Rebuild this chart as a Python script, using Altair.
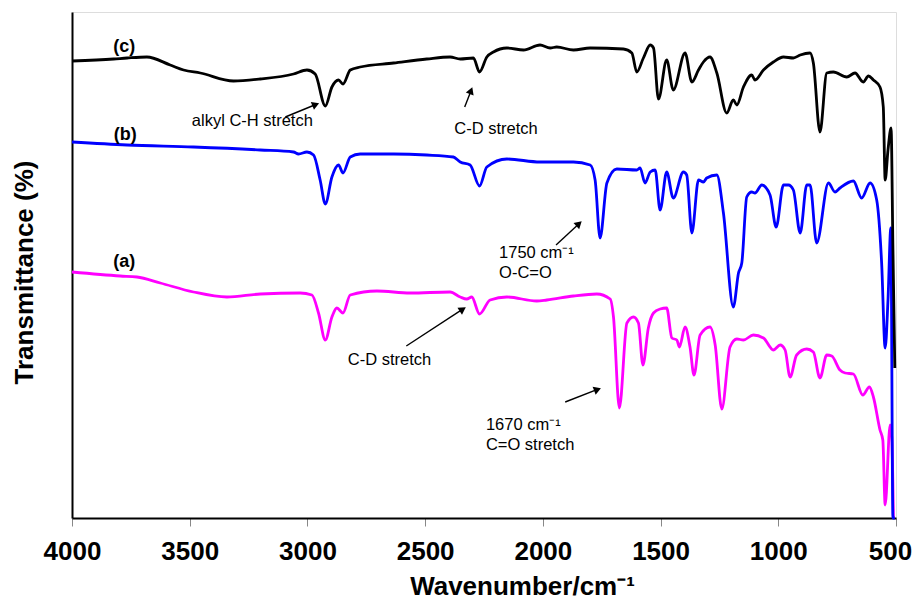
import math
import altair as alt
import pandas as pd

# ---- spectrum (c): black ----
wn_c = [4000, 3823, 3766, 3682, 3583, 3526, 3455, 3314, 3200, 3059, 3002, 2967, 2924, 2896, 2868, 2849,
        2818, 2776, 2634, 2493, 2394, 2351, 2295, 2269, 2238, 2210, 2153, 2082, 2012, 1969, 1941, 1870,
        1799, 1658, 1622, 1601, 1573, 1544, 1530, 1509, 1474, 1446, 1396, 1367, 1339, 1318, 1290, 1261,
        1219, 1191, 1176, 1148, 1113, 1099, 1063, 1021, 978, 936, 907, 865, 851, 823, 794, 766, 709,
        674, 639, 617, 596, 568, 554, 546, 534, 521, 513, 505]
t_c = [457, 459, 460, 461, 453, 448, 445, 437, 439, 444, 448, 444, 412, 431, 438, 434,
       448, 451, 455, 459, 461, 459, 460, 446, 461, 466, 470, 468, 473, 470, 471, 468,
       470, 469, 465, 446, 460, 473, 470, 419, 458, 428, 465, 436, 448, 456, 461, 445,
       405, 418, 413, 431, 443, 438, 448, 456, 461, 460, 463, 465, 455, 386, 445, 446, 441,
       445, 436, 442, 438, 431, 411, 338, 368, 390, 268, 150]

# ---- spectrum (b): blue ----
wn_b = [4000, 3766, 3484, 3200, 3059, 3038, 3002, 2974, 2946, 2924, 2896, 2868, 2849, 2818, 2776, 2634,
        2493, 2380, 2351, 2309, 2269, 2238, 2153, 2012, 1870, 1799, 1778, 1757, 1728, 1686, 1601, 1587,
        1566, 1544, 1523, 1502, 1474, 1446, 1403, 1389, 1367, 1339, 1318, 1304, 1261, 1233, 1191, 1169,
        1155, 1134, 1113, 1099, 1070, 1035, 1009, 978, 957, 936, 907, 879, 865, 837, 787, 759, 738,
        681, 646, 610, 582, 561, 546, 534, 522, 513, 505]
t_b = [376, 373, 371, 368, 366, 364, 366, 363, 338, 314, 341, 353, 345, 361, 364, 364,
       363, 361, 356, 353, 332, 351, 359, 356, 356, 353, 338, 280, 335, 349, 348, 350,
       335, 346, 348, 308, 346, 320, 346, 343, 285, 338, 336, 340, 343, 305, 211, 245,
       255, 321, 326, 325, 333, 323, 291, 333, 333, 328, 285, 333, 333, 275, 335, 326, 330,
       337, 320, 335, 318, 255, 170, 218, 290, 0, 0]

# ---- spectrum (a): magenta ----
wn_a = [4000, 3795, 3724, 3625, 3484, 3342, 3200, 3031, 2981, 2953, 2924, 2896, 2875, 2849, 2818, 2705,
        2564, 2394, 2351, 2323, 2302, 2269, 2224, 2153, 2026, 1983, 1870, 1771, 1714, 1700, 1675, 1643,
        1615, 1594, 1575, 1552, 1530, 1502, 1474, 1452, 1431, 1420, 1396, 1375, 1358, 1332, 1290, 1268,
        1240, 1205, 1176, 1148, 1106, 1063, 1021, 992, 971, 950, 922, 879, 851, 823, 794, 773, 738,
        716, 681, 641, 613, 596, 568, 556, 546, 525, 518, 511]
t_a = [246, 242, 241, 235, 226, 221, 224, 225, 223, 205, 178, 201, 210, 205, 223, 227,
       225, 226, 221, 219, 221, 204, 218, 221, 217, 218, 222, 224, 219, 201, 110, 195,
       201, 195, 153, 190, 205, 209, 210, 180, 178, 171, 191, 171, 143, 183, 191, 173,
       109, 171, 179, 178, 183, 180, 168, 173, 168, 141, 163, 169, 166, 140, 163, 162, 148,
       145, 144, 123, 131, 121, 88, 78, 13, 93, 81, 0]

series_names = ["(a)", "(b)", "(c)"]
series_colors = ["#FF00FF", "#0000FF", "#000000"]

# ---- labels ----
lab_text = ["(c)", "(b)", "(a)"]
lab_wn = [3778, 3774, 3778]
lab_t = [471, 383, 256]

note_text = ["alkyl C-H stretch", "C-D stretch", "C-D stretch"]
note_wn = [3234, 2199, 2651]
note_t = [397, 389, 158]

left_text = ["1750 cm\u207b\u00b9", "O-C=O", "1670 cm\u207b\u00b9", "C=O stretch"]
left_wn = [2186, 2186, 2242, 2242]
left_t = [265, 245, 93, 73]

# arrows: start -> tip
arr_wn1 = [3094, 2332, 1944, 2580, 1905]
arr_t1 = [401, 411, 273, 172, 116]
arr_wn2 = [2949, 2299, 1834, 2326, 1752]
arr_t2 = [415, 431, 297, 211, 130]

tick_values = [4000, 3500, 3000, 2500, 2000, 1500, 1000, 500]

W, H = 824, 506
X_MIN, X_MAX = 500, 4000
Y_MIN, Y_MAX = 0, 506
kx = W / (X_MAX - X_MIN)
ky = H / (Y_MAX - Y_MIN)

rows = []
for name, wns, ts in [("(a)", wn_a, t_a), ("(b)", wn_b, t_b), ("(c)", wn_c, t_c)]:
    for i, (w, t) in enumerate(zip(wns, ts)):
        rows.append({"series": name, "wn": w, "t": t, "i": i})
spec_df = pd.DataFrame(rows)

# arrow geometry (heads placed via the same data scales)
arr_rows, head_rows = [], []
for w1, t1, w2, t2 in zip(arr_wn1, arr_t1, arr_wn2, arr_t2):
    dxp = -(w2 - w1) * kx
    dyp = -(t2 - t1) * ky
    L = math.hypot(dxp, dyp)
    ux, uy = dxp / L, dyp / L
    back = 4.0
    wc = w2 + back * ux / kx
    tc = t2 + back * uy / ky
    ang = math.degrees(math.atan2(dxp, -dyp)) % 360
    arr_rows.append({"wn": w1, "t": t1, "wn2": wc, "t2": tc})
    head_rows.append({"wn": wc, "t": tc, "ang": ang})
arr_df = pd.DataFrame(arr_rows)
head_df = pd.DataFrame(head_rows)

FONT = "Arial, Liberation Sans, sans-serif"

xscale = alt.Scale(domain=[X_MIN, X_MAX], reverse=True, nice=False, zero=False)
yscale = alt.Scale(domain=[Y_MIN, Y_MAX], nice=False, zero=False)
xaxis = alt.Axis(values=tick_values, format="d", title="Wavenumber/cm\u207b\u00b9",
                 grid=False, domainColor="black", domainWidth=2, tickColor="#888888",
                 tickSize=8, tickWidth=1, labelFont=FONT, labelFontSize=26,
                 labelFontWeight="bold", labelColor="black", labelPadding=12,
                 labelFlush=False,
                 labelOffset={"condition": {"test": "datum.value === 500", "value": -6}, "value": 0},
                 titleFont=FONT, titleFontSize=26,
                 titleFontWeight="bold", titleColor="black", titleX=450, titleY=76,
                 titleBaseline="alphabetic", titleAlign="center")
yaxis = alt.Axis(title="Transmittance (%)", labels=False, ticks=False, grid=False,
                 domainColor="black", domainWidth=2, titleFont=FONT, titleFontSize=26,
                 titleFontWeight="bold", titleColor="black", titleX=-48, titleY=260,
                 titleAngle=270, titleBaseline="middle", titleAlign="center")

X = alt.X("wn:Q", scale=xscale, axis=xaxis)
Y = alt.Y("t:Q", scale=yscale, axis=yaxis)

lines = alt.Chart(spec_df).mark_line(strokeWidth=2.8, strokeJoin="round",
                                     interpolate="monotone").encode(
    x=X, y=Y,
    color=alt.Color("series:N", scale=alt.Scale(domain=series_names, range=series_colors), legend=None),
    order=alt.Order("i:Q"),
)

labels = alt.Chart(pd.DataFrame({"wn": lab_wn, "t": lab_t, "txt": lab_text})).mark_text(
    font=FONT, fontSize=18, fontWeight="bold", color="black", baseline="middle", align="center"
).encode(x=X, y=Y, text="txt:N")

notes = alt.Chart(pd.DataFrame({"wn": note_wn, "t": note_t, "txt": note_text})).mark_text(
    font=FONT, fontSize=16.5, color="black", baseline="middle", align="center"
).encode(x=X, y=Y, text="txt:N")

left_notes = alt.Chart(pd.DataFrame({"wn": left_wn, "t": left_t, "txt": left_text})).mark_text(
    font=FONT, fontSize=16.5, color="black", baseline="middle", align="left"
).encode(x=X, y=Y, text="txt:N")

arrows = alt.Chart(arr_df).mark_rule(color="black", strokeWidth=1.4).encode(
    x=X, y=Y, x2="wn2:Q", y2="t2:Q"
)
heads = alt.Chart(head_df).mark_point(shape="triangle-up", filled=True, color="black",
                                      size=70, opacity=1).encode(
    x=X, y=Y, angle=alt.Angle("ang:Q", scale=None)
)

chart = alt.layer(lines, arrows, heads, labels, notes, left_notes).properties(
    width=W, height=H, autosize="none",
    padding={"left": 64, "top": 4, "right": 18, "bottom": 83},
).configure_view(stroke="black", strokeWidth=1.5).configure(background="white")

chart.save("out.html", embed_options={"renderer": "svg", "actions": False})
